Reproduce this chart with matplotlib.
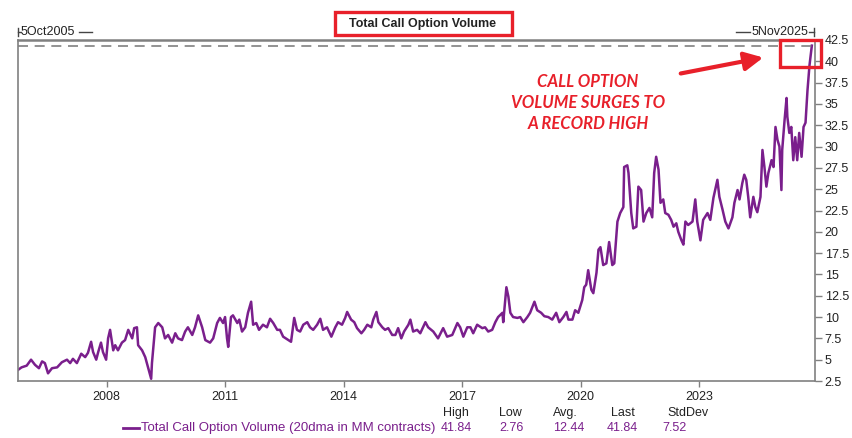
import numpy as np
import matplotlib
matplotlib.use('Agg')
import matplotlib.pyplot as plt
from matplotlib.lines import Line2D
from matplotlib.patches import Rectangle

# data (decimal year, 20dma call volume in MM contracts)
years = [
    2005.76, 2005.85, 2005.98, 2006.09, 2006.19, 2006.29, 2006.37, 2006.44, 2006.52, 2006.62,
    2006.75, 2006.87, 2007.00, 2007.08, 2007.15, 2007.25, 2007.36, 2007.46, 2007.53, 2007.61,
    2007.66, 2007.74, 2007.79, 2007.86, 2007.91, 2007.99, 2008.04, 2008.09, 2008.17, 2008.22,
    2008.29, 2008.39, 2008.47, 2008.55, 2008.65, 2008.70, 2008.77, 2008.80, 2008.90, 2008.98,
    2009.05, 2009.13, 2009.15, 2009.23, 2009.31, 2009.41, 2009.48, 2009.56, 2009.66, 2009.74,
    2009.81, 2009.91, 2009.99, 2010.06, 2010.17, 2010.24, 2010.32, 2010.42, 2010.50, 2010.62,
    2010.70, 2010.80, 2010.87, 2010.95, 2011.00, 2011.05, 2011.08, 2011.15, 2011.20, 2011.31,
    2011.36, 2011.43, 2011.51, 2011.58, 2011.66, 2011.71, 2011.79, 2011.86, 2011.96, 2012.06,
    2012.14, 2012.22, 2012.32, 2012.39, 2012.47, 2012.57, 2012.67, 2012.75, 2012.82, 2012.90,
    2012.98, 2013.08, 2013.15, 2013.23, 2013.33, 2013.41, 2013.48, 2013.58, 2013.69, 2013.79,
    2013.86, 2013.96, 2014.04, 2014.09, 2014.19, 2014.27, 2014.34, 2014.45, 2014.52, 2014.60,
    2014.70, 2014.75, 2014.83, 2014.88, 2014.98, 2015.05, 2015.13, 2015.23, 2015.31, 2015.38,
    2015.46, 2015.53, 2015.64, 2015.69, 2015.76, 2015.86, 2015.94, 2016.07, 2016.14, 2016.27,
    2016.39, 2016.52, 2016.62, 2016.75, 2016.88, 2016.95, 2017.03, 2017.13, 2017.21, 2017.28,
    2017.38, 2017.51, 2017.58, 2017.66, 2017.76, 2017.84, 2017.91, 2018.02, 2018.04, 2018.12,
    2018.17, 2018.22, 2018.29, 2018.40, 2018.47, 2018.55, 2018.65, 2018.72, 2018.83, 2018.90,
    2019.00, 2019.08, 2019.18, 2019.28, 2019.38, 2019.46, 2019.56, 2019.64, 2019.69, 2019.79,
    2019.86, 2019.94, 2020.04, 2020.09, 2020.14, 2020.19, 2020.27, 2020.32, 2020.40, 2020.45,
    2020.50, 2020.57, 2020.65, 2020.72, 2020.80, 2020.85, 2020.93, 2021.00, 2021.08, 2021.10,
    2021.18, 2021.21, 2021.28, 2021.33, 2021.41, 2021.46, 2021.53, 2021.59, 2021.66, 2021.74,
    2021.81, 2021.86, 2021.91, 2021.97, 2022.02, 2022.09, 2022.14, 2022.22, 2022.29, 2022.35,
    2022.42, 2022.47, 2022.55, 2022.60, 2022.65, 2022.72, 2022.83, 2022.90, 2022.95, 2023.03,
    2023.10, 2023.21, 2023.28, 2023.36, 2023.46, 2023.51, 2023.59, 2023.66, 2023.74, 2023.84,
    2023.89, 2023.97, 2024.02, 2024.09, 2024.14, 2024.19, 2024.24, 2024.29, 2024.37, 2024.42,
    2024.47, 2024.55, 2024.60, 2024.65, 2024.70, 2024.75, 2024.83, 2024.88, 2024.93, 2024.98,
    2025.03, 2025.08, 2025.10, 2025.16, 2025.21, 2025.23, 2025.28, 2025.33, 2025.38, 2025.43,
    2025.48, 2025.53, 2025.59, 2025.64, 2025.69, 2025.74, 2025.79, 2025.85,
]
volume = [
    3.8, 4.1, 4.3, 5.0, 4.4, 4.0, 4.8, 4.6, 3.4, 4.0,
    4.1, 4.7, 5.0, 4.6, 5.1, 4.6, 5.7, 5.3, 5.8, 7.1,
    5.9, 5.0, 5.9, 7.0, 5.9, 5.0, 7.5, 8.5, 6.1, 6.7,
    6.1, 7.0, 7.3, 8.5, 7.5, 8.7, 8.8, 6.7, 6.1, 5.3,
    4.1, 2.76, 4.6, 8.8, 9.3, 8.8, 7.5, 7.9, 7.0, 8.1,
    7.5, 7.3, 8.3, 8.8, 7.9, 8.8, 10.2, 8.8, 7.3, 7.0,
    7.5, 9.3, 9.9, 9.3, 10.0, 7.5, 6.5, 10.0, 10.2, 9.3,
    9.7, 8.3, 8.8, 10.5, 11.8, 9.1, 9.3, 8.5, 9.1, 8.8,
    9.8, 9.3, 8.5, 8.5, 7.7, 7.4, 7.1, 9.9, 8.5, 8.3,
    9.1, 9.4, 8.8, 8.5, 9.1, 9.8, 8.5, 8.8, 7.7, 8.8,
    9.4, 9.1, 9.9, 10.6, 9.7, 9.4, 8.7, 8.1, 8.5, 9.1,
    8.8, 9.7, 10.6, 9.4, 8.8, 8.5, 8.7, 7.9, 7.9, 8.7,
    7.5, 8.3, 9.1, 9.7, 8.3, 8.5, 8.1, 9.4, 8.8, 8.3,
    7.5, 8.7, 7.7, 7.9, 9.3, 8.8, 7.7, 8.8, 8.8, 8.1,
    9.1, 8.7, 8.8, 8.3, 8.5, 9.4, 10.0, 10.5, 9.4, 13.5,
    12.4, 10.5, 10.0, 9.9, 10.0, 9.4, 10.0, 10.5, 11.8, 10.8,
    10.5, 10.1, 10.0, 9.7, 10.5, 9.4, 10.0, 10.6, 9.7, 9.7,
    10.8, 10.5, 12.0, 13.5, 13.8, 15.5, 13.2, 12.8, 15.2, 17.9,
    18.2, 16.1, 16.3, 18.8, 16.1, 16.3, 21.2, 22.2, 22.9, 27.6,
    27.8, 26.9, 22.2, 20.4, 20.6, 25.3, 24.9, 21.2, 22.2, 22.8,
    21.7, 26.9, 28.8, 27.3, 23.4, 23.8, 22.2, 22.0, 21.4, 20.6,
    21.0, 20.0, 19.0, 18.5, 21.2, 20.8, 21.2, 23.8, 21.2, 19.0,
    21.4, 22.2, 21.4, 24.0, 26.1, 24.1, 22.6, 21.2, 20.4, 21.7,
    23.4, 24.9, 23.8, 25.7, 26.7, 26.1, 24.1, 21.7, 24.1, 22.9,
    22.3, 24.1, 29.6, 27.6, 25.3, 26.9, 28.4, 27.6, 32.3, 30.8,
    30.0, 24.9, 29.6, 33.1, 35.7, 33.5, 31.6, 32.3, 28.4, 31.1,
    28.4, 31.6, 28.8, 32.3, 32.8, 36.6, 39.5, 41.84,
]

stat_names = ['High', 'Low', 'Avg.', 'Last', 'StdDev']
stat_values = [41.84, 2.76, 12.44, 41.84, 7.52]
year_ticks = [2008, 2011, 2014, 2017, 2020, 2023]
start_label = '5Oct2005'
end_label = '5Nov2025'

purple = '#7a1f8c'
red = '#e8202a'
grey = '#808080'
dark = '#222222'
sans = ['Liberation Sans', 'DejaVu Sans']

W, H = 853, 438
fig = plt.figure(figsize=(W / 100, H / 100), dpi=100)
ax = fig.add_axes([18 / W, 57 / H, 797 / W, 341 / H])

def fx(x):
    return x / W

def fy(y):
    return 1 - y / H

ax.plot(years, volume, color=purple, lw=1.8)
ax.axhline(stat_values[0], color=grey, lw=1.2, ls=(0, (6, 4)))

ax.set_xlim(2005.76, 2025.93)
ax.set_ylim(2.5, 42.5)
ax.set_xticks(year_ticks)
ax.set_xticklabels([str(y) for y in year_ticks], fontfamily=sans, fontsize=9, color=dark)
yt = np.arange(2.5, 42.6, 2.5)
ax.set_yticks(yt)
ax.set_yticklabels(['%g' % v for v in yt], fontfamily=sans, fontsize=9, color=dark)
ax.yaxis.tick_right()
ax.tick_params(axis='y', direction='out', length=5, width=1, color=grey, pad=2)
ax.tick_params(axis='x', direction='out', length=4, width=1, color=grey, pad=3)
for s in ax.spines.values():
    s.set_color(grey)
    s.set_linewidth(1.2)
ax.spines['top'].set_linewidth(1.8)

# start / end date brackets above the plot
fig.text(fx(21), fy(32), start_label, fontfamily=sans, fontsize=9, color=dark, va='center', ha='left')
fig.add_artist(Line2D([fx(18), fx(18)], [fy(28), fy(36)], color='#444444', lw=1, transform=fig.transFigure))
fig.add_artist(Line2D([fx(18), fx(21)], [fy(32), fy(32)], color='#444444', lw=1, transform=fig.transFigure))
fig.add_artist(Line2D([fx(79), fx(92)], [fy(32), fy(32)], color='#444444', lw=1, transform=fig.transFigure))
fig.text(fx(808), fy(32), end_label, fontfamily=sans, fontsize=9, color=dark, va='center', ha='right')
fig.add_artist(Line2D([fx(736), fx(750)], [fy(32), fy(32)], color='#444444', lw=1, transform=fig.transFigure))
fig.add_artist(Line2D([fx(809), fx(814)], [fy(32), fy(32)], color='#444444', lw=1, transform=fig.transFigure))
fig.add_artist(Line2D([fx(814), fx(814)], [fy(28), fy(36)], color='#444444', lw=1, transform=fig.transFigure))

# title with red box
fig.text(fx(423), fy(24), 'Total Call Option Volume', fontfamily=sans,
         fontsize=9, fontweight='bold', color=dark, ha='center', va='center')
fig.add_artist(Rectangle((fx(335), fy(35)), fx(177), 23 / H, fill=False, edgecolor=red, lw=2.4,
                         transform=fig.transFigure))

# annotation
fig.add_artist(Rectangle((fx(780), fy(67)), fx(41), 27 / H, fill=False, edgecolor=red, lw=2.4,
                         transform=fig.transFigure, clip_on=False))
ax.annotate('', xy=(fx(766), fy(57)), xytext=(fx(678), fy(74)), xycoords='figure fraction',
            textcoords='figure fraction',
            arrowprops=dict(arrowstyle='-|>', color=red, lw=3, mutation_scale=28))
fig.text(fx(588), fy(103), 'CALL OPTION\nVOLUME SURGES TO\nA RECORD HIGH', fontfamily=['Lato', 'DejaVu Sans'],
         fontsize=12, fontweight='bold', fontstyle='italic', color=red, ha='center', va='center',
         linespacing=1.35)

# legend row with stats
fig.add_artist(Line2D([fx(123), fx(139)], [fy(428), fy(428)], color=purple, lw=2, transform=fig.transFigure))
fig.text(fx(141), fy(428), 'Total Call Option Volume (20dma in MM contracts)', fontfamily=sans,
         fontsize=9.5, color=purple, ha='left', va='center')
head_x = [443, 499, 553, 611, 667]
val_x = [441, 499, 553, 607, 662]
for name, val, hx, vx in zip(stat_names, stat_values, head_x, val_x):
    fig.text(fx(hx), fy(413), name, fontfamily=sans, fontsize=9, color=dark, ha='left', va='center')
    fig.text(fx(vx), fy(428), '%.2f' % val, fontfamily=sans, fontsize=9, color=purple, ha='left', va='center')

fig.savefig('out.png', dpi=100)
